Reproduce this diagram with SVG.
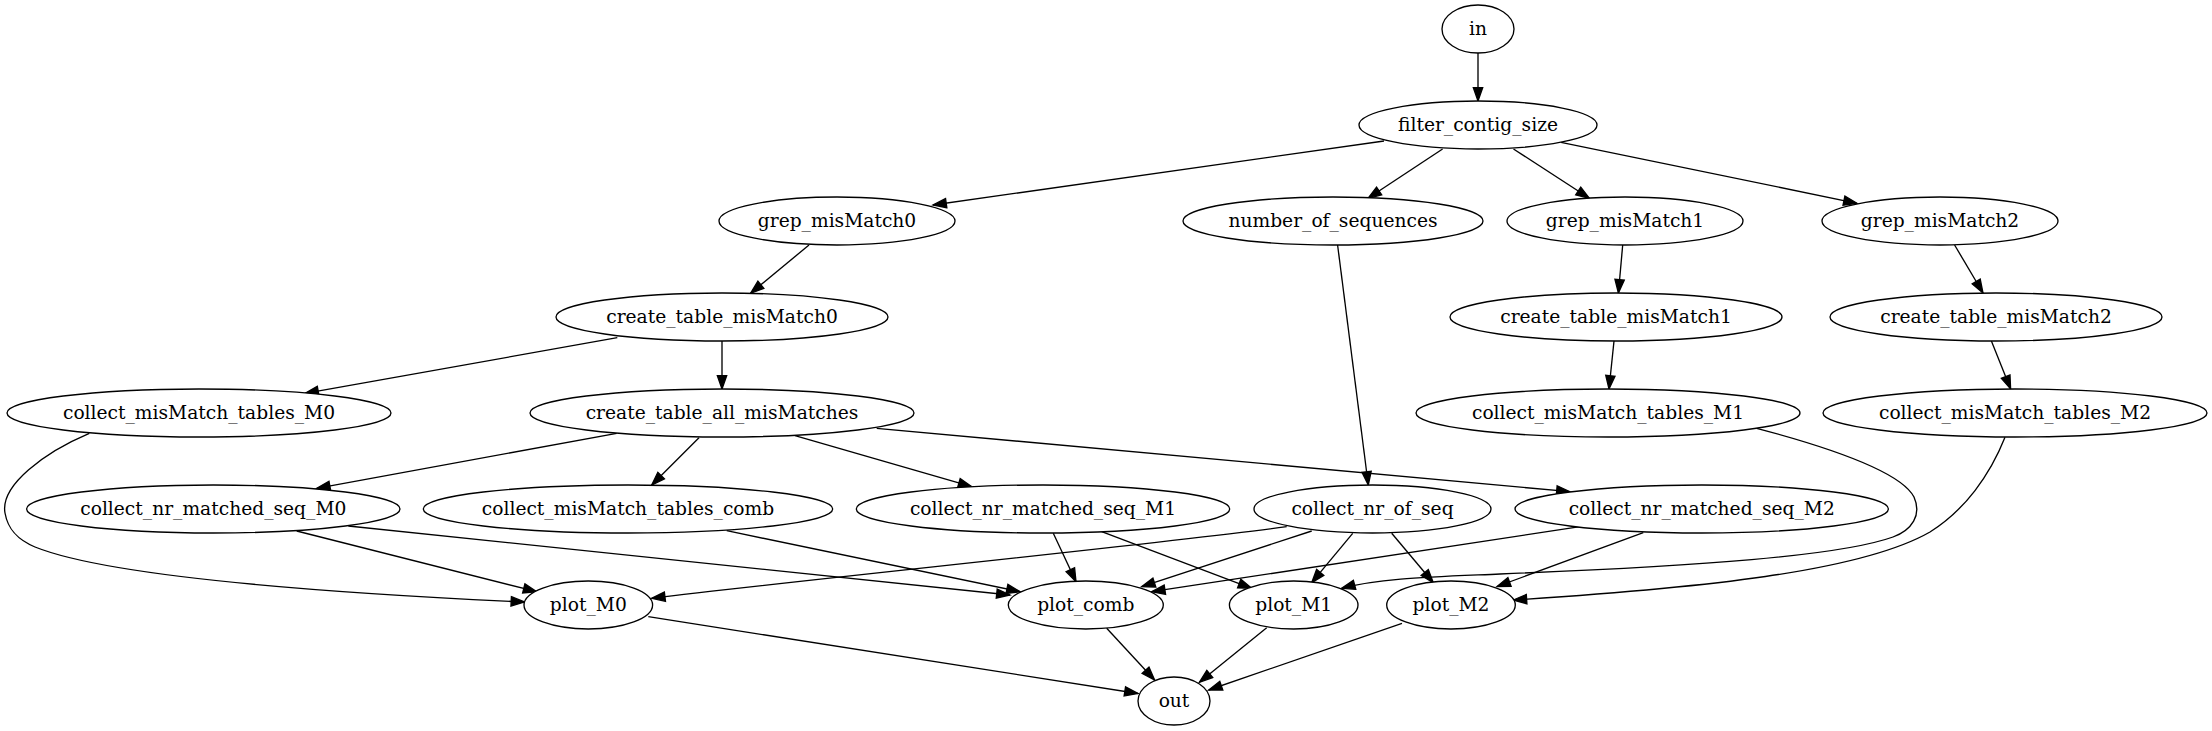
<svg xmlns="http://www.w3.org/2000/svg" width="2212" height="731" viewBox="0 0 2212 731">
<style>
.node ellipse{fill:#fff;stroke:#000;stroke-width:1.33}
.node text{font-family:"DejaVu Serif",serif;font-size:18.67px;text-anchor:middle;fill:#000}
.edges path{fill:none;stroke:#000;stroke-width:1.33;marker-end:url(#ah)}
</style>
<defs>
<marker id="ah" viewBox="0 0 13.33 9.33" refX="13.33" refY="4.665" markerWidth="13.33" markerHeight="9.33" markerUnits="userSpaceOnUse" orient="auto" overflow="visible">
<path d="M0,0 L13.33,4.665 L0,9.33 z" fill="#000" stroke="#000" stroke-width="1.33"/>
</marker>
</defs>
<rect x="0" y="0" width="2212" height="731" fill="#fff"/>
<g id="edges" class="edges">
<path d="M1478,53 L1478,101"/>
<path d="M1384,141 L933,205"/>
<path d="M1442.6,149 L1368,198.3"/>
<path d="M1513.5,149 L1589.4,198.3"/>
<path d="M1561,142.3 L1857,203.3"/>
<path d="M809,245 L750.6,293.3"/>
<path d="M1622.7,245 L1618.4,293"/>
<path d="M1954.6,245 L1983,293"/>
<path d="M617.3,337.7 L305,393.3"/>
<path d="M722,341 L722,389"/>
<path d="M1614,341 L1609,389"/>
<path d="M1991.4,341 L2010.6,389"/>
<path d="M1337.6,245 L1368.3,485"/>
<path d="M616.7,433.3 L316.7,488.3"/>
<path d="M699,437.7 L651.7,485"/>
<path d="M795,435.7 L971.7,486.7"/>
<path d="M876.7,428.3 L1570,491.7"/>
<path d="M89.3,433.3 C45,452 0,485 5,513 C8,530 18,540 35,547 C115,579 350,594 524.5,602"/>
<path d="M1756.7,428.3 C1820,445 1900,470 1914,497 C1922,515 1912,530 1893,537 C1840,556 1700,566 1500,574 C1430,577 1380,578 1341.7,588.3"/>
<path d="M2005,437.3 C1990,475 1965,510 1930,532 C1860,572 1700,588 1513.3,600"/>
<path d="M296.7,531 L536.7,591.7"/>
<path d="M348.3,526 L1010,595"/>
<path d="M726.7,530.7 L1020,591.7"/>
<path d="M1053.3,533.3 L1076,581.7"/>
<path d="M1101.7,531.7 L1251.7,588.3"/>
<path d="M1286.7,526.7 C1150,545 800,580 651.7,598.3"/>
<path d="M1311.7,531 L1141.7,586.7"/>
<path d="M1352.7,533.3 L1311.7,582.7"/>
<path d="M1391.7,533.3 L1433.3,582.7"/>
<path d="M1580,526.7 L1151.7,591.7"/>
<path d="M1643.3,532.7 L1497,586.5"/>
<path d="M648.3,616.7 L1138,693.5"/>
<path d="M1106.7,628.3 L1154.6,680"/>
<path d="M1266.7,627.7 L1199.4,682.3"/>
<path d="M1402,623.3 L1208.7,690"/>
</g>
<g id="in" class="node"><ellipse cx="1478" cy="29" rx="36" ry="24"/><text x="1478" y="34.6">in</text></g>
<g id="filter_contig_size" class="node"><ellipse cx="1478" cy="125" rx="119" ry="24"/><text x="1478" y="130.6">filter_contig_size</text></g>
<g id="grep_misMatch0" class="node"><ellipse cx="837" cy="221" rx="118" ry="24"/><text x="837" y="226.6">grep_misMatch0</text></g>
<g id="number_of_sequences" class="node"><ellipse cx="1333" cy="221" rx="150" ry="24"/><text x="1333" y="226.6">number_of_sequences</text></g>
<g id="grep_misMatch1" class="node"><ellipse cx="1625" cy="221" rx="118" ry="24"/><text x="1625" y="226.6">grep_misMatch1</text></g>
<g id="grep_misMatch2" class="node"><ellipse cx="1940" cy="221" rx="118" ry="24"/><text x="1940" y="226.6">grep_misMatch2</text></g>
<g id="create_table_misMatch0" class="node"><ellipse cx="722" cy="317" rx="166" ry="24"/><text x="722" y="322.6">create_table_misMatch0</text></g>
<g id="create_table_misMatch1" class="node"><ellipse cx="1616" cy="317" rx="166" ry="24"/><text x="1616" y="322.6">create_table_misMatch1</text></g>
<g id="create_table_misMatch2" class="node"><ellipse cx="1996" cy="317" rx="166" ry="24"/><text x="1996" y="322.6">create_table_misMatch2</text></g>
<g id="collect_misMatch_tables_M0" class="node"><ellipse cx="199" cy="413" rx="192" ry="24"/><text x="199" y="418.6">collect_misMatch_tables_M0</text></g>
<g id="create_table_all_misMatches" class="node"><ellipse cx="722" cy="413" rx="192" ry="24"/><text x="722" y="418.6">create_table_all_misMatches</text></g>
<g id="collect_misMatch_tables_M1" class="node"><ellipse cx="1608" cy="413" rx="192" ry="24"/><text x="1608" y="418.6">collect_misMatch_tables_M1</text></g>
<g id="collect_misMatch_tables_M2" class="node"><ellipse cx="2015" cy="413" rx="192" ry="24"/><text x="2015" y="418.6">collect_misMatch_tables_M2</text></g>
<g id="collect_nr_matched_seq_M0" class="node"><ellipse cx="213.3" cy="509" rx="186.7" ry="24"/><text x="213.3" y="514.6">collect_nr_matched_seq_M0</text></g>
<g id="collect_misMatch_tables_comb" class="node"><ellipse cx="628" cy="509" rx="204.7" ry="24"/><text x="628" y="514.6">collect_misMatch_tables_comb</text></g>
<g id="collect_nr_matched_seq_M1" class="node"><ellipse cx="1043" cy="509" rx="186.7" ry="24"/><text x="1043" y="514.6">collect_nr_matched_seq_M1</text></g>
<g id="collect_nr_of_seq" class="node"><ellipse cx="1372.5" cy="509" rx="118.5" ry="24"/><text x="1372.5" y="514.6">collect_nr_of_seq</text></g>
<g id="collect_nr_matched_seq_M2" class="node"><ellipse cx="1701.7" cy="509" rx="186.7" ry="24"/><text x="1701.7" y="514.6">collect_nr_matched_seq_M2</text></g>
<g id="plot_M0" class="node"><ellipse cx="588.3" cy="605" rx="64.3" ry="24"/><text x="588.3" y="610.6">plot_M0</text></g>
<g id="plot_comb" class="node"><ellipse cx="1085.8" cy="605" rx="77.5" ry="24"/><text x="1085.8" y="610.6">plot_comb</text></g>
<g id="plot_M1" class="node"><ellipse cx="1293.7" cy="605" rx="64.3" ry="24"/><text x="1293.7" y="610.6">plot_M1</text></g>
<g id="plot_M2" class="node"><ellipse cx="1451" cy="605" rx="64.3" ry="24"/><text x="1451" y="610.6">plot_M2</text></g>
<g id="out" class="node"><ellipse cx="1174" cy="701" rx="36" ry="24"/><text x="1174" y="706.6">out</text></g>
</svg>
